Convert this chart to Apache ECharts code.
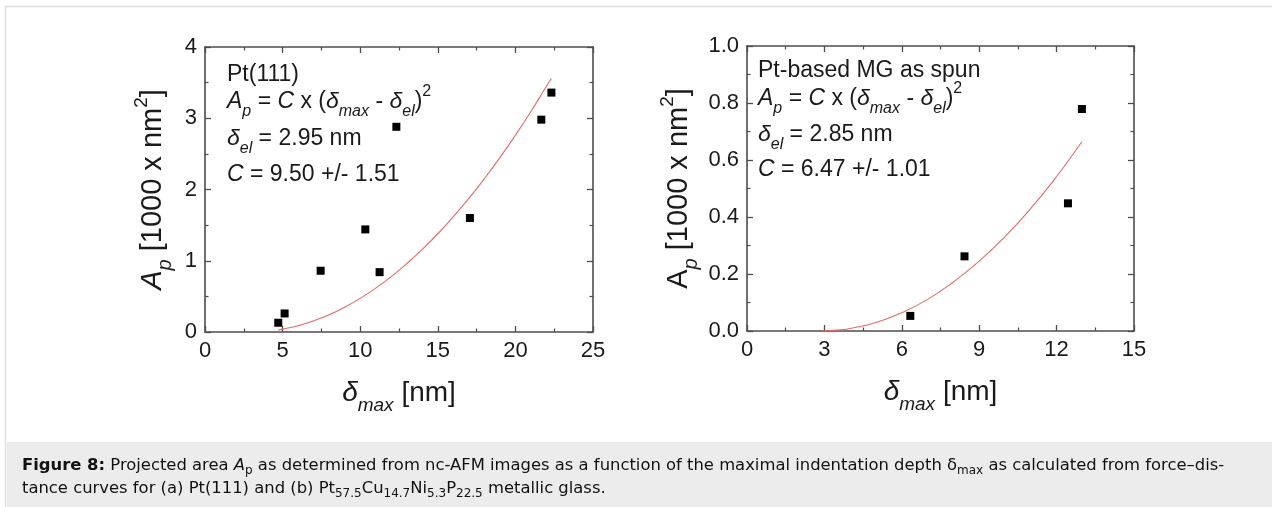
<!DOCTYPE html>
<html><head><meta charset="utf-8">
<script src="https://cdn.jsdelivr.net/npm/echarts@6/dist/echarts.min.js"></script>
<style>html,body{margin:0;padding:0;background:#fff}#c{width:1272px;height:507px}</style>
</head><body><div id="c"></div>
<script>
// ---- data ----
// (a) Pt(111): measured points
const ptDelta = [4.72, 5.13, 7.45, 10.33, 11.25, 12.33, 17.07, 21.67, 22.32];
const ptArea  = [0.13, 0.26, 0.86, 1.44, 0.84, 2.88, 1.60, 2.98, 3.36];
// (a) fit curve (red line)
const ptFitDelta = [4.72, 5, 6, 7, 8, 9, 10, 11, 12, 13, 14, 15, 16, 17, 18, 19, 20, 21, 22, 22.32];
const ptFitArea  = [0.03, 0.040, 0.088, 0.156, 0.242, 0.348, 0.472, 0.616, 0.778, 0.960, 1.160, 1.379, 1.618, 1.875, 2.152, 2.447, 2.762, 3.095, 3.448, 3.557];
// (b) Pt-based MG as spun: measured points
const mgDelta = [6.33, 8.43, 12.44, 12.98];
const mgArea  = [0.053, 0.262, 0.448, 0.779];
// (b) fit curve
const mgFitDelta = [2.9, 3.5, 4, 5, 6, 7, 8, 9, 10, 11, 12, 12.98];
const mgFitArea  = [0.000, 0.003, 0.009, 0.030, 0.064, 0.111, 0.172, 0.245, 0.331, 0.430, 0.542, 0.664];
// axis ranges / tick steps
const ptXTicks = {min: 0, max: 25, step: 5};
const ptYTicks = {min: 0, max: 4, step: 1};
const mgXTicks = {min: 0, max: 15, step: 3};
const mgYTicks = {min: 0, max: 1, step: 0.2};
// texts
const ptNote = ['Pt(111)', '2.95 nm', '9.50 +/- 1.51'];
const mgNote = ['Pt-based MG as spun', '2.85 nm', '6.47 +/- 1.01'];

// ---- styling ----
const F = '"Liberation Sans", Arial, sans-serif';
const FC = '"DejaVu Sans", Verdana, sans-serif';
const TXT = '#1a1a1a';
const AX = '#4d4d4d';
const richBig = {
  n:  {fontSize: 23, fontFamily: F, color: TXT},
  i:  {fontSize: 23, fontFamily: F, color: TXT, fontStyle: 'italic'},
  s:  {fontSize: 16, fontFamily: F, color: TXT, fontStyle: 'italic', padding: [20, 0, 0, 0]},
  u:  {fontSize: 16, fontFamily: F, color: TXT, padding: [0, 0, 20, 0]}
};
const richX = {
  n:  {fontSize: 28, fontFamily: F, color: TXT},
  i:  {fontSize: 28, fontFamily: F, color: TXT, fontStyle: 'italic'},
  s:  {fontSize: 19, fontFamily: F, color: TXT, fontStyle: 'italic', padding: [24, 0, 0, 0]}
};
const richY = {
  n:  {fontSize: 29, fontFamily: F, color: TXT},
  i:  {fontSize: 29, fontFamily: F, color: TXT, fontStyle: 'italic'},
  s:  {fontSize: 20, fontFamily: F, color: TXT, fontStyle: 'italic', padding: [24, 0, 0, 0]},
  u:  {fontSize: 19, fontFamily: F, color: TXT, padding: [0, 0, 22, 0]}
};
const CS = 16.4;
const richCap = {
  b: {fontSize: CS, fontFamily: FC, color: '#111', fontWeight: 'bold'},
  n: {fontSize: CS, fontFamily: FC, color: '#111'},
  i: {fontSize: CS, fontFamily: FC, color: '#111', fontStyle: 'italic'},
  s: {fontSize: 12, fontFamily: FC, color: '#111', padding: [9, 0, 0, 0]}
};

function valAxis(t, idx, pos, opts) {
  const showLab = pos === 'bottom' || pos === 'left';
  return Object.assign({
    type: 'value', gridIndex: idx, position: pos,
    min: t.min, max: t.max, interval: t.step,
    axisLine: {show: true, onZero: false, lineStyle: {color: AX, width: 1.6}},
    axisTick: {show: true, inside: true, length: 6, lineStyle: {color: AX, width: 1.3}},
    minorTick: {show: true, splitNumber: 2, length: 3.5, lineStyle: {color: AX, width: 1.2}},
    splitLine: {show: false},
    axisLabel: {show: showLab, fontSize: 22, fontFamily: F, color: TXT, margin: 8},
  }, opts || {});
}

const gridA = {left: 205, top: 47, width: 388, height: 285};
const gridB = {left: 747, top: 46, width: 387, height: 285};
const xName = '{i|δ}{s|max}{n| [nm]}';

const option = {
  animation: false,
  backgroundColor: '#fff',
  grid: [gridA, gridB],
  xAxis: [
    valAxis(ptXTicks, 0, 'bottom', {name: xName, nameLocation: 'middle', nameGap: 40, nameTextStyle: {rich: richX}}),
    valAxis(ptXTicks, 0, 'top'),
    valAxis(mgXTicks, 1, 'bottom', {name: xName, nameLocation: 'middle', nameGap: 40, nameTextStyle: {rich: richX}}),
    valAxis(mgXTicks, 1, 'top')
  ],
  yAxis: [
    valAxis(ptYTicks, 0, 'left', {name: '{i|A}{s|p}{n| [1000 x nm}{u|2}{n|]}', nameLocation: 'middle', nameGap: 30, nameRotate: 90, nameTextStyle: {rich: richY}}),
    valAxis(ptYTicks, 0, 'right'),
    valAxis(mgYTicks, 1, 'left', {name: '{n|A}{s|p}{n| [1000 x nm}{u|2}{n|]}', nameLocation: 'middle', nameGap: 46, nameRotate: 90, nameTextStyle: {rich: richY},
      axisLabel: {show: true, fontSize: 22, fontFamily: F, color: TXT, margin: 8, formatter: v => v.toFixed(1)}}),
    valAxis(mgYTicks, 1, 'right')
  ],
  series: [
    {type: 'line', xAxisIndex: 0, yAxisIndex: 0, data: ptFitDelta.map((d, k) => [d, ptFitArea[k]]),
     smooth: true, showSymbol: false, symbol: 'none', lineStyle: {color: '#e36a6a', width: 1.1}, z: 2},
    {type: 'scatter', xAxisIndex: 0, yAxisIndex: 0, data: ptDelta.map((d, k) => [d, ptArea[k]]),
     symbol: 'rect', symbolSize: 8, itemStyle: {color: '#000', opacity: 1}, z: 3},
    {type: 'line', xAxisIndex: 2, yAxisIndex: 2, data: mgFitDelta.map((d, k) => [d, mgFitArea[k]]),
     smooth: true, showSymbol: false, symbol: 'none', lineStyle: {color: '#e36a6a', width: 1.1}, z: 2},
    {type: 'scatter', xAxisIndex: 2, yAxisIndex: 2, data: mgDelta.map((d, k) => [d, mgArea[k]]),
     symbol: 'rect', symbolSize: 8, itemStyle: {color: '#000', opacity: 1}, z: 3}
  ],
  graphic: []
};

function noteLines(x, ys, note) {
  const lines = [
    '{n|' + note[0] + '}',
    '{i|A}{s|p}{n| = }{i|C}{n| x (}{i|δ}{s|max}{n| - }{i|δ}{s|el}{n|)}{u|2}',
    '{i|δ}{s|el}{n| = ' + note[1] + '}',
    '{i|C}{n| = ' + note[2] + '}'
  ];
  return lines.map((t, k) => ({
    type: 'text', x: x, y: ys[k], z: 10,
    style: {text: t, rich: richBig, fill: TXT, fontSize: 23, fontFamily: F,
            verticalAlign: 'middle', textVerticalAlign: 'middle', align: 'left', textAlign: 'left'}
  }));
}

option.graphic = [
  // page frame
  {type: 'line', shape: {x1: 5, y1: 6.5, x2: 1272, y2: 6.5}, style: {stroke: '#e0e0e0', lineWidth: 1.5}},
  {type: 'line', shape: {x1: 5.5, y1: 6, x2: 5.5, y2: 507}, style: {stroke: '#e0e0e0', lineWidth: 1.5}},
  // caption band
  {type: 'rect', shape: {x: 6.5, y: 442, width: 1266, height: 65}, style: {fill: '#ececec'}, z: 0},
  {type: 'text', x: 22, y: 466, z: 10,
   style: {text: '{b|Figure 8:}{n| Projected area }{i|A}{s|p}{n| as determined from nc-AFM images as a function of the maximal indentation depth δ}{s|max}{n| as calculated from force–dis-}',
           rich: richCap, fill: '#111', fontSize: CS, fontFamily: FC, verticalAlign: 'middle', textVerticalAlign: 'middle'}},
  {type: 'text', x: 22, y: 489, z: 10,
   style: {text: '{n|tance curves for (a) Pt(111) and (b) Pt}{s|57.5}{n|Cu}{s|14.7}{n|Ni}{s|5.3}{n|P}{s|22.5}{n| metallic glass.}',
           rich: richCap, fill: '#111', fontSize: CS, fontFamily: FC, verticalAlign: 'middle', textVerticalAlign: 'middle'}}
].concat(noteLines(227, [75, 102, 139, 175], ptNote), noteLines(758, [71, 99, 135, 170], mgNote));

const chart = echarts.init(document.getElementById('c'), null, {renderer: 'canvas'});
chart.setOption(option);
</script>
</body></html>
